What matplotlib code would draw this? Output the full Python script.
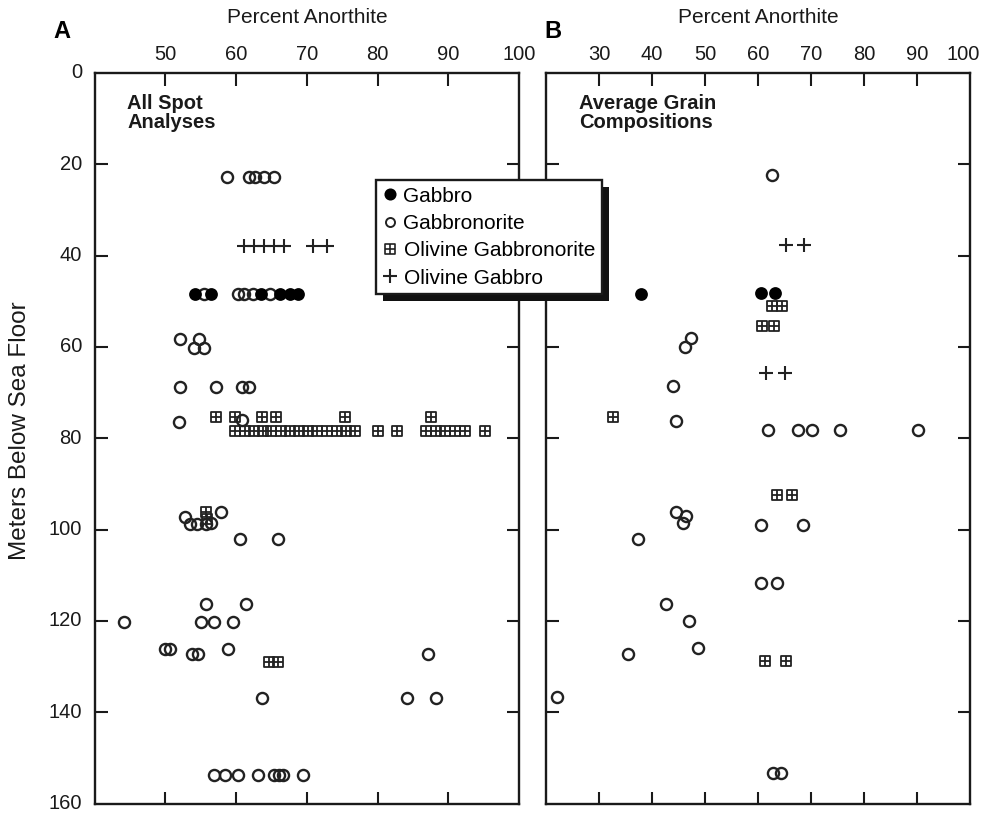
import matplotlib
matplotlib.use("Agg")
import matplotlib.pyplot as plt
from matplotlib.path import Path
from matplotlib.lines import Line2D
from matplotlib.patches import Rectangle

plt.rcParams['font.family'] = ['Liberation Sans', 'DejaVu Sans']

# ---------------- Panel A: All spot analyses ----------------
A_gabbro_x = [54.2, 56.5, 63.5, 66.2, 67.6, 68.8]
A_gabbro_y = [48.5, 48.5, 48.5, 48.5, 48.5, 48.5]

A_gn_x = [58.7, 61.8, 62.7, 63.9, 65.3,
          55.4, 60.2, 61.1, 62.4, 64.8,
          52.1, 54.7, 54.1, 55.5,
          52.1, 57.1, 60.9, 61.8,
          51.9, 60.9,
          52.8, 53.5, 54.5, 55.7, 56.4, 57.8,
          60.6, 65.9,
          55.7, 61.4,
          44.1, 55.1, 56.8, 59.6,
          50.0, 50.6, 58.8,
          53.8, 54.6, 87.2,
          63.6, 84.2, 88.2,
          56.9, 58.4, 60.3, 63.1, 65.4, 66.1, 66.6, 69.5]
A_gn_y = [22.7, 22.7, 22.7, 22.7, 22.7,
          48.5, 48.5, 48.5, 48.5, 48.5,
          58.2, 58.2, 60.3, 60.3,
          68.8, 68.8, 68.8, 68.8,
          76.4, 76.1,
          97.2, 98.8, 98.7, 98.7, 98.6, 96.2,
          102.0, 102.0,
          116.4, 116.4,
          120.3, 120.3, 120.3, 120.3,
          126.1, 126.1, 126.1,
          127.2, 127.2, 127.3,
          136.8, 136.8, 136.8,
          153.7, 153.7, 153.7, 153.7, 153.7, 153.7, 153.7, 153.7]

A_ogn_x = [57.1, 59.8, 63.6, 65.6, 75.4, 87.5,
           59.8, 61.2, 62.5, 63.8, 65.0, 66.3, 67.6, 68.9, 70.2, 71.5,
           72.9, 74.3, 75.6, 76.8,
           80.1, 82.7, 86.9, 88.3, 89.6, 91.0, 92.3, 95.2,
           55.7, 55.9,
           64.7, 65.9]
A_ogn_y = [75.3, 75.3, 75.3, 75.3, 75.3, 75.3,
           78.5, 78.5, 78.5, 78.5, 78.5, 78.5, 78.5, 78.5, 78.5, 78.5,
           78.5, 78.5, 78.5, 78.5,
           78.5, 78.5, 78.5, 78.5, 78.5, 78.5, 78.5, 78.5,
           96.2, 97.6,
           129.0, 129.0]

A_og_x = [61.1, 62.5, 63.9, 65.3, 66.8, 70.8, 72.8]
A_og_y = [37.9, 37.9, 37.9, 37.9, 37.9, 37.9, 37.9]

# ---------------- Panel B: Average grain compositions ----------------
B_gabbro_x = [37.9, 60.6, 63.3]
B_gabbro_y = [48.5, 48.1, 48.1]

B_gn_x = [62.7, 47.4, 46.2, 43.9, 44.5,
          61.9, 67.6, 70.2, 75.5, 90.1,
          44.5, 46.5, 45.9, 60.6, 68.5, 37.3,
          60.6, 63.6, 42.6, 47.0, 48.6, 35.4, 22.0, 62.9, 64.3]
B_gn_y = [22.4, 58.1, 60.0, 68.5, 76.3,
          78.2, 78.2, 78.2, 78.2, 78.2,
          96.2, 97.1, 98.5, 99.1, 99.1, 102.0,
          111.8, 111.8, 116.2, 120.1, 125.9, 127.2, 136.7, 153.4, 153.4]

B_ogn_x = [62.6, 64.6, 60.8, 63.1, 32.6, 63.5, 66.5, 61.3, 65.3]
B_ogn_y = [51.1, 51.1, 55.5, 55.5, 75.3, 92.5, 92.5, 128.8, 128.8]

B_og_x = [65.2, 68.7, 61.6, 65.1]
B_og_y = [37.7, 37.7, 65.8, 65.8]

A_xticks = [50, 60, 70, 80, 90, 100]
B_xticks = [30, 40, 50, 60, 70, 80, 90, 100]
y_ticks = [0, 20, 40, 60, 80, 100, 120, 140, 160]

legend_labels = ['Gabbro', 'Gabbronorite', 'Olivine Gabbronorite', 'Olivine Gabbro']

# square-with-cross marker
verts = [(-1, -1), (1, -1), (1, 1), (-1, 1), (-1, -1),
         (0, -1), (0, 1), (-1, 0), (1, 0)]
codes = [Path.MOVETO, Path.LINETO, Path.LINETO, Path.LINETO, Path.CLOSEPOLY,
         Path.MOVETO, Path.LINETO, Path.MOVETO, Path.LINETO]
sq_marker = Path(verts, codes)

fig = plt.figure(figsize=(9.84, 8.19), dpi=100)
W, H = 984, 819
top_px, bot_px = 73, 803.5
axA = fig.add_axes([94.7 / W, 1 - bot_px / H, (519 - 94.7) / W, (bot_px - top_px) / H])
axB = fig.add_axes([546 / W, 1 - bot_px / H, (970 - 546) / W, (bot_px - top_px) / H])

ink = '#1a1a1a'
ms = 8.0
style_gabbro = dict(marker='o', ls='none', ms=ms, mfc='black', mec='black', mew=1.2)
style_gn = dict(marker='o', ls='none', ms=ms, mfc='none', mec='#222222', mew=1.7)
style_ogn = dict(marker=sq_marker, ls='none', ms=ms * 0.95, mfc='none', mec='#222222', mew=1.3)
style_og = dict(marker='+', ls='none', ms=ms * 1.25, mec='#222222', mew=1.5)

def plot_panel(ax, gx, gy, nx, ny, sx, sy, px, py):
    ax.plot(nx, ny, **style_gn)
    ax.plot(sx, sy, **style_ogn)
    ax.plot(px, py, **style_og)
    ax.plot(gx, gy, **style_gabbro)

plot_panel(axA, A_gabbro_x, A_gabbro_y, A_gn_x, A_gn_y, A_ogn_x, A_ogn_y, A_og_x, A_og_y)
plot_panel(axB, B_gabbro_x, B_gabbro_y, B_gn_x, B_gn_y, B_ogn_x, B_ogn_y, B_og_x, B_og_y)

axA.set_xlim(40, 100)
axB.set_xlim(20, 100)
tick_fs = 14.5
for ax in (axA, axB):
    ax.set_ylim(160, 0)
    for s in ax.spines.values():
        s.set_linewidth(1.7)
        s.set_color(ink)
    ax.set_yticks(y_ticks[1:-1])
    ax.tick_params(axis='both', which='both', direction='in', length=9, width=1.5,
                   top=True, bottom=True, left=True, right=True,
                   labeltop=False, labelbottom=False, labelleft=False, labelright=False,
                   colors=ink)
    # x-axis title placed above the top tick labels
    ax.text(0.5, 1.0 + (73 - 18) / 730.5, 'Percent Anorthite', transform=ax.transAxes,
            ha='center', va='center', fontsize=15, color=ink)

axA.set_xticks(A_xticks[:-1])
axB.set_xticks(B_xticks[:-1])

# top tick labels (the corner label "100" of panel B is nudged inward as in the original)
label_y = 1.0 + (73 - 55) / 730.5
for ax, ticks, nudge in ((axA, A_xticks, 0.0), (axB, B_xticks, 7 / 424.0)):
    for t in ticks:
        if t == 100:
            ax.text(1.0 - nudge, label_y, str(t), transform=ax.transAxes, ha='center',
                    va='center', fontsize=tick_fs, color=ink)
        else:
            ax.text(t, label_y, str(t), transform=ax.get_xaxis_transform(),
                    ha='center', va='center', fontsize=tick_fs, color=ink)

# y tick labels in panel A (0..160)
for t in y_ticks:
    axA.text(-0.03, t, str(t), transform=axA.get_yaxis_transform(), ha='right',
             va='center', fontsize=tick_fs, color=ink)
axA.text(-0.176, (803.5 - 431) / 730.5, 'Meters Below Sea Floor', transform=axA.transAxes,
         rotation=90, ha='center', va='center', fontsize=17.5, color=ink)

axA.text(44.6, 4.6, 'All Spot\nAnalyses', fontsize=14.5, fontweight='bold', va='top',
         ha='left', linespacing=1.0, color=ink)
axB.text(26.2, 4.6, 'Average Grain\nCompositions', fontsize=14.5, fontweight='bold',
         va='top', ha='left', linespacing=1.0, color=ink)

fig.text(62 / W, 1 - 32 / H, 'A', fontsize=17, fontweight='bold', ha='center', va='center')
fig.text(553 / W, 1 - 32 / H, 'B', fontsize=17, fontweight='bold', ha='center', va='center')

handles = [Line2D([], [], **{**style_gabbro, 'ms': 7.5}),
           Line2D([], [], **{**style_gn, 'ms': 6.5, 'mew': 1.4}),
           Line2D([], [], **{**style_ogn, 'ms': 7.0, 'mew': 1.2}),
           Line2D([], [], **{**style_og, 'ms': 10})]
leg = fig.legend(handles, legend_labels, loc='upper left',
                 bbox_to_anchor=(376 / W, 1 - 180 / H), fontsize=15,
                 frameon=True, fancybox=False, borderpad=0.32, handlelength=0.7,
                 handletextpad=0.3, labelspacing=0.4, borderaxespad=0)
leg.get_frame().set_edgecolor(ink)
leg.get_frame().set_linewidth(1.7)
leg.get_frame().set_facecolor('white')
leg.get_frame().set_alpha(1)
leg.set_zorder(10)

fig.canvas.draw()
bb = leg.get_window_extent().transformed(fig.transFigure.inverted())
off_x, off_y = 7 / W, 7 / H
shadow = Rectangle((bb.x0 + off_x, bb.y0 - off_y), bb.width, bb.height,
                   transform=fig.transFigure, facecolor='#111111', edgecolor='none',
                   zorder=9)
fig.patches.append(shadow)

fig.savefig('out.png', dpi=100)
